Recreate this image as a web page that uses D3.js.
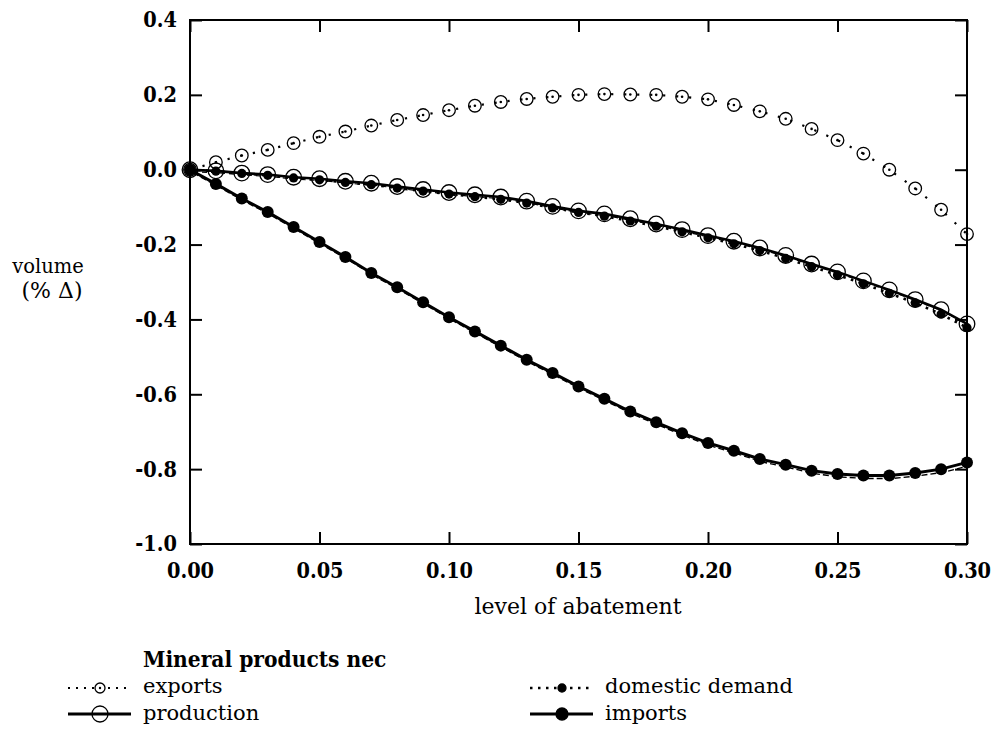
<!DOCTYPE html>
<html>
<head>
<meta charset="utf-8">
<script src="https://cdn.jsdelivr.net/npm/d3@7"></script>
<style>
  html, body { margin: 0; padding: 0; background: #fff; }
  svg { display: block; }
  text { font-family: "DejaVu Serif", serif; fill: #000; }
  .cond { font-family: "DejaVu Serif Condensed", "DejaVu Serif", serif; }
</style>
</head>
<body>
<svg id="chart" width="997" height="729"></svg>
<script>
// Level of abatement (x values)
const abatement = [0.00, 0.01, 0.02, 0.03, 0.04, 0.05, 0.06, 0.07, 0.08, 0.09,
                   0.10, 0.11, 0.12, 0.13, 0.14, 0.15, 0.16, 0.17, 0.18, 0.19,
                   0.20, 0.21, 0.22, 0.23, 0.24, 0.25, 0.26, 0.27, 0.28, 0.29, 0.30];

// Volume change (% Δ) per series
const exportsVol = [0.000, 0.020, 0.038, 0.053, 0.071, 0.088, 0.102, 0.118, 0.133, 0.146,
                    0.159, 0.171, 0.181, 0.189, 0.195, 0.200, 0.202, 0.201, 0.200, 0.195,
                    0.188, 0.173, 0.156, 0.136, 0.109, 0.079, 0.043, 0.000, -0.050, -0.107, -0.172];
const productionVol = [0.000, -0.003, -0.009, -0.013, -0.020, -0.024, -0.031, -0.036, -0.045, -0.053,
                       -0.061, -0.067, -0.073, -0.084, -0.098, -0.110, -0.118, -0.131, -0.145, -0.160,
                       -0.176, -0.191, -0.209, -0.229, -0.252, -0.273, -0.297, -0.321, -0.347, -0.374, -0.412];
const domesticVol = [0.000, -0.004, -0.010, -0.015, -0.022, -0.027, -0.034, -0.040, -0.049, -0.057,
                     -0.065, -0.072, -0.079, -0.089, -0.102, -0.114, -0.124, -0.137, -0.151, -0.166,
                     -0.182, -0.198, -0.216, -0.237, -0.259, -0.281, -0.305, -0.330, -0.356, -0.386, -0.422];
const importsVol = [0.000, -0.038, -0.077, -0.113, -0.153, -0.193, -0.233, -0.276, -0.314, -0.354,
                    -0.394, -0.432, -0.470, -0.508, -0.543, -0.579, -0.612, -0.646, -0.675, -0.704,
                    -0.730, -0.751, -0.773, -0.788, -0.804, -0.813, -0.817, -0.817, -0.810, -0.800, -0.782];

const xTicks = [0.00, 0.05, 0.10, 0.15, 0.20, 0.25, 0.30];
const yTicks = [0.4, 0.2, 0.0, -0.2, -0.4, -0.6, -0.8, -1.0];

const chartTitle = "Mineral products nec";
const xTitle = "level of abatement";
const yTitleLines = ["volume", "(% \u0394)"];
const seriesNames = ["exports", "production", "domestic demand", "imports"];

const svg = d3.select("#chart");
const plot = { left: 190, right: 967, top: 20, bottom: 544 };

const x = d3.scaleLinear().domain([0, 0.30]).range([plot.left, plot.right]);
const y = d3.scaleLinear().domain([-1.0, 0.4]).range([plot.bottom, plot.top]);

// plain hyphen for negative tick labels
const hyphen = f => v => f(v).replace("\u2212", "-");

// Axes: ticks point inwards, mirrored on top and right
const tickLen = 12;
const axisStyle = g => {
  g.select(".domain").remove();
  g.selectAll(".tick line").attr("stroke", "#000").attr("stroke-width", 2);
  g.selectAll(".tick text").attr("class", "cond")
    .style("font-size", "21.5px").style("font-weight", "bold").attr("fill", "#000");
};

svg.append("g")
  .attr("transform", `translate(0,${plot.bottom})`)
  .call(d3.axisBottom(x).tickValues(xTicks).tickFormat(hyphen(d3.format(".2f")))
        .tickSizeInner(-tickLen).tickSizeOuter(0).tickPadding(19))
  .call(axisStyle);

svg.append("g")
  .attr("transform", `translate(0,${plot.top})`)
  .call(d3.axisTop(x).tickValues(xTicks).tickFormat("").tickSizeInner(-tickLen).tickSizeOuter(0))
  .call(axisStyle);

svg.append("g")
  .attr("transform", `translate(${plot.left},0)`)
  .call(d3.axisLeft(y).tickValues(yTicks).tickFormat(hyphen(d3.format(".1f")))
        .tickSizeInner(-tickLen).tickSizeOuter(0).tickPadding(13))
  .call(axisStyle);

svg.append("g")
  .attr("transform", `translate(${plot.right},0)`)
  .call(d3.axisRight(y).tickValues(yTicks).tickFormat("").tickSizeInner(-tickLen).tickSizeOuter(0))
  .call(axisStyle);

// Frame
svg.append("rect")
  .attr("x", plot.left).attr("y", plot.top)
  .attr("width", plot.right - plot.left).attr("height", plot.bottom - plot.top)
  .attr("fill", "none").attr("stroke", "#000").attr("stroke-width", 2);

// Axis titles
svg.append("text").attr("x", 578).attr("y", 614).attr("text-anchor", "middle")
  .style("font-size", "22px").text(xTitle);
svg.selectAll(".ytitle").data(yTitleLines).join("text")
  .attr("class", "ytitle")
  .attr("x", (d, i) => i === 0 ? 48 : 52).attr("y", (d, i) => 273 + i * 25)
  .attr("text-anchor", "middle")
  .style("font-size", (d, i) => i === 0 ? "19.5px" : "22px").text(d => d);

// Series
const pts = vals => abatement.map((a, i) => [a, vals[i]]);
const line = d3.line().x(d => x(d[0])).y(d => y(d[1]));
const layer = svg.append("g");

// exports: dotted line, open circles with centre dot
layer.append("path").datum(pts(exportsVol)).attr("d", line)
  .attr("fill", "none").attr("stroke", "#000").attr("stroke-width", 2.2)
  .attr("stroke-dasharray", "2.2,10.8");
layer.append("g").selectAll("circle").data(pts(exportsVol)).join("circle")
  .attr("cx", d => x(d[0])).attr("cy", d => y(d[1])).attr("r", 6.3)
  .attr("fill", "none").attr("stroke", "#000").attr("stroke-width", 1.3);
layer.append("g").selectAll("circle").data(pts(exportsVol)).join("circle")
  .attr("cx", d => x(d[0])).attr("cy", d => y(d[1])).attr("r", 1.3).attr("fill", "#000");

// production: solid line, large open circles
layer.append("path").datum(pts(productionVol)).attr("d", line)
  .attr("fill", "none").attr("stroke", "#000").attr("stroke-width", 2.6);
layer.append("path").datum(pts(productionVol)).attr("d", line)
  .attr("transform", "translate(3,2)")
  .attr("fill", "none").attr("stroke", "#000").attr("stroke-width", 1.2)
  .attr("stroke-dasharray", "5,4");

// domestic demand: dense dotted line, small filled dots
layer.append("path").datum(pts(domesticVol)).attr("d", line)
  .attr("fill", "none").attr("stroke", "#000").attr("stroke-width", 2.6)
  .attr("stroke-dasharray", "2.6,5.4");
layer.append("g").selectAll("circle").data(pts(domesticVol)).join("circle")
  .attr("cx", d => x(d[0])).attr("cy", d => y(d[1])).attr("r", 4.6).attr("fill", "#000");

layer.append("g").selectAll("circle").data(pts(productionVol)).join("circle")
  .attr("cx", d => x(d[0])).attr("cy", d => y(d[1])).attr("r", 7.8)
  .attr("fill", "none").attr("stroke", "#000").attr("stroke-width", 1.3);

// imports: heavy solid line, filled dots
layer.append("path").datum(pts(importsVol)).attr("d", line)
  .attr("fill", "none").attr("stroke", "#000").attr("stroke-width", 3);
layer.append("path").datum(pts(importsVol)).attr("d", line)
  .attr("transform", "translate(3,3)")
  .attr("fill", "none").attr("stroke", "#000").attr("stroke-width", 1.4)
  .attr("stroke-dasharray", "6,3");
layer.append("g").selectAll("circle").data(pts(importsVol)).join("circle")
  .attr("cx", d => x(d[0])).attr("cy", d => y(d[1])).attr("r", 6).attr("fill", "#000");

// Legend
svg.append("text").attr("class", "cond").attr("x", 143).attr("y", 667)
  .style("font-size", "22.5px").style("font-weight", "bold").text(chartTitle);

const legend = [
  { name: seriesNames[0], x0: 68, y: 688, ty: 693, dash: "2,6", w: 2, marker: "openDot", r: 5 },
  { name: seriesNames[1], x0: 68, y: 714, ty: 720, dash: null, w: 3, marker: "open", r: 8 },
  { name: seriesNames[2], x0: 530, y: 688, ty: 693, dash: "2.5,5.5", w: 2.5, marker: "filled", r: 4 },
  { name: seriesNames[3], x0: 530, y: 714, ty: 720, dash: null, w: 3, marker: "filled", r: 6 }
];
const lg = svg.append("g").selectAll("g").data(legend).join("g");
lg.append("line")
  .attr("x1", d => d.x0).attr("x2", d => d.x0 + 63)
  .attr("y1", d => d.y).attr("y2", d => d.y)
  .attr("stroke", "#000").attr("stroke-width", d => d.w)
  .attr("stroke-dasharray", d => d.dash);
lg.append("circle")
  .attr("cx", d => d.x0 + 32).attr("cy", d => d.y).attr("r", d => d.r)
  .attr("fill", d => d.marker === "filled" ? "#000" : (d.marker === "openDot" ? "#fff" : "none"))
  .attr("stroke", "#000").attr("stroke-width", 1.3);
lg.filter(d => d.marker === "openDot").append("circle")
  .attr("cx", d => d.x0 + 32).attr("cy", d => d.y).attr("r", 1.2).attr("fill", "#000");
lg.append("text")
  .attr("x", d => d.x0 + 75).attr("y", d => d.ty)
  .style("font-size", "21px").text(d => d.name);
</script>
</body>
</html>
